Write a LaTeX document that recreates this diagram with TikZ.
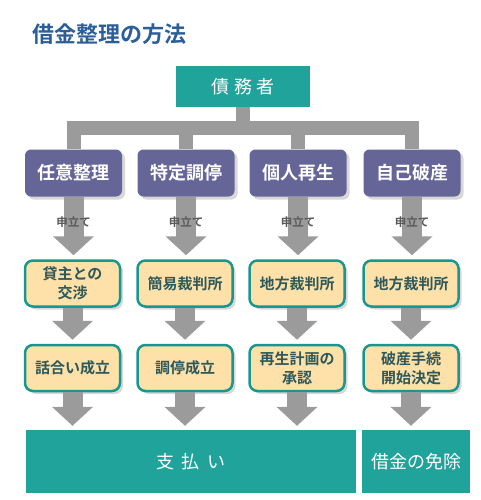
\documentclass[tikz,border=0pt]{standalone}
\usepackage{fontspec}
\setmainfont{Noto Sans CJK JP}[BoldFont={Noto Sans CJK JP Bold}]
\usetikzlibrary{arrows.meta,shadows}
\definecolor{teal}{HTML}{20A39A}
\definecolor{violet}{HTML}{656598}
\definecolor{cream}{HTML}{FDE1A9}
\definecolor{rim}{HTML}{17978F}
\definecolor{ink}{HTML}{2E585A}
\definecolor{heading}{HTML}{2C5E99}
\definecolor{pipe}{HTML}{9B9B9B}
\tikzset{
  plain/.style={fill=teal, text=white, inner sep=0pt, font=\fontsize{18}{22}\selectfont},
  method/.style={fill=violet, text=white, rounded corners=6pt, minimum width=97pt, minimum height=47pt,
    inner sep=0pt, font=\bfseries\fontsize{18}{22}\selectfont,
    drop shadow={shadow xshift=3pt, shadow yshift=-3pt, fill=black!30}},
  stage/.style={fill=cream, draw=rim, line width=2.5pt, text=ink, rounded corners=8pt,
    minimum width=95pt, minimum height=46pt, inner sep=0pt, align=center,
    font=\bfseries\fontsize{15}{19}\selectfont,
    drop shadow={shadow xshift=3pt, shadow yshift=-3pt, fill=black!30}},
  tree/.style={draw=pipe, line width=14pt, line join=miter},
  flow/.style={draw=pipe, line width=20pt, -{Triangle[width=40pt,length=19pt]}, shorten >=4pt},
}
\begin{document}
\begin{tikzpicture}[x=1pt, y=-1pt]
\useasboundingbox (0,0) rectangle (480,500);
\node[anchor=west, text=heading, font=\bfseries\fontsize{22}{26}\selectfont] (title) at (29,34) {借金整理の方法};
\node[plain, minimum width=134pt, minimum height=41pt] (debtor) at (243,86.5)
  {\addfontfeature{LetterSpace=25}債務者};
\coordinate (bar) at (243,128);
% columns
\foreach \i/\x/\m/\c/\r in {1/73.5/任意整理/貸主との\\交渉/話合い成立,
  2/186/特定調停/簡易裁判所/調停成立,
  3/298/個人再生/地方裁判所/再生計画の\\承認,
  4/412/自己破産/地方裁判所/破産手続\\開始決定}
{
  \node[method] (pm\i) at (\x,173) {\m};
  \node[stage] (ct\i) at (\x-1,283.5) {\c};
  \node[stage] (rs\i) at (\x-1,368) {\r};
}
\node[plain, minimum width=330pt, minimum height=63pt] (pay) at (191,461.5)
  {\addfontfeature{LetterSpace=40}支払い};
\node[plain, minimum width=108pt, minimum height=63pt] (exempt) at (416,461.5) {借金の免除};
% tree
\draw[tree] (debtor.south) -- (debtor.south |- bar);
\draw[tree] (pm1.north) |- (pm4.north |- bar) -- (pm4.north);
\draw[tree] (pm2.north) -- (pm2.north |- bar);
\draw[tree] (pm3.north) -- (pm3.north |- bar);
% arrows
\foreach \i in {1,...,4}
{
  \draw[flow] (pm\i.south) -- node[pos=0.4, text=black!65, font=\bfseries\fontsize{11.5}{13}\selectfont] (app\i) {申立て} (ct\i.north -| pm\i.south);
  \draw[flow] (ct\i.south) -- (rs\i.north);
}
\foreach \i in {1,2,3}
  \draw[flow] (rs\i.south) -- (rs\i.south |- pay.north);
\draw[flow] (rs4.south) -- (rs4.south |- exempt.north);
\end{tikzpicture}
\end{document}
